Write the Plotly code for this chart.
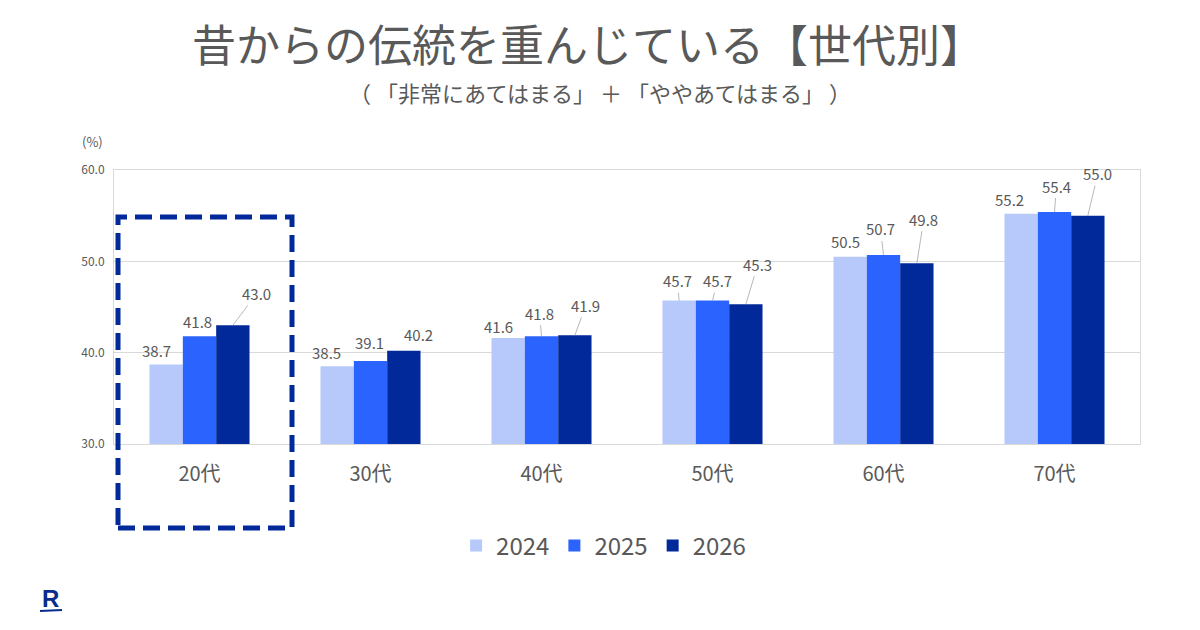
import plotly.graph_objects as go

categories = ["20代", "30代", "40代", "50代", "60代", "70代"]
years = ["2024", "2025", "2026"]
v2024 = [38.7, 38.5, 41.6, 45.7, 50.5, 55.2]
v2025 = [41.8, 39.1, 41.8, 45.7, 50.7, 55.4]
v2026 = [43.0, 40.2, 41.9, 45.3, 49.8, 55.0]
series = [v2024, v2025, v2026]
colors = ["#b7c9fb", "#2b63ff", "#02299a"]

# label offsets (px) from bar top, and whether a leader line is drawn
offsets = [
    [(-10, -14, False), (-2, -15, False), (24, -32, True)],
    [(-11, -14, False), (-1, -18, False), (15, -16, False)],
    [(-10, -12, False), (-2, -23, True), (11, -30, True)],
    [(-2, -20, True), (5, -20, True), (12, -40, True)],
    [(-5, -15, False), (-3, -26, True), (7, -44, True)],
    [(-12, -14, False), (2, -26, True), (10, -42, True)],
]

FONT = "Noto Sans CJK JP"
GREY = "#595959"

fig = go.Figure()
for name, vals, col in zip(years, series, colors):
    fig.add_trace(go.Bar(x=categories, y=vals, name=name, marker=dict(color=col, line=dict(width=0))))

bar_w = 0.195
annotations = []
for i in range(len(categories)):
    for k in range(3):
        val = series[k][i]
        ax, ay, lead = offsets[i][k]
        annotations.append(dict(
            x=i + (k - 1) * bar_w, y=val, xref="x", yref="y",
            text=f"{val:.1f}", showarrow=True, arrowhead=0, arrowwidth=0.8,
            arrowcolor="#a6a6a6" if lead else "rgba(0,0,0,0)",
            ax=ax, ay=ay, standoff=0, startstandoff=0,
            font=dict(family=FONT, size=15, color=GREY),
        ))

annotations += [
    dict(text="昔からの伝統を重んじている【世代別】", xref="paper", yref="paper",
         showarrow=False, font=dict(family=FONT, size=44, color=GREY)),
    dict(text="（ 「非常にあてはまる」 ＋ 「ややあてはまる」 ）", xref="paper", yref="paper",
         showarrow=False, font=dict(family=FONT, size=22, color=GREY)),
    dict(text="(%)", xref="paper", yref="paper", showarrow=False,
         font=dict(family=FONT, size=13, color=GREY)),
    dict(text="<b>R</b>", xref="paper", yref="paper", showarrow=False,
         font=dict(family="Liberation Sans", size=24, color="#0a2c8c")),
]

W, H = 1200, 630
L, R, T, B = 114, 60, 170, 186
pw, ph = W - L - R, H - T - B

def px(x):
    return (x - L) / pw

def py(y):
    return (H - B - y) / ph

# position the page-level texts
annotations[-4].update(x=px(588), y=py(43), xanchor="center", yanchor="middle")
annotations[-3].update(x=px(600), y=py(92), xanchor="center", yanchor="middle")
annotations[-2].update(x=px(92), y=py(142), xanchor="center", yanchor="middle")
annotations[-1].update(x=px(50), y=py(598), xanchor="center", yanchor="middle")

shapes = [
    dict(type="rect", xref="paper", yref="paper", x0=px(118), x1=px(292), y0=py(528), y1=py(217),
         line=dict(color="#02299a", width=5, dash="17px,8px"), fillcolor="rgba(0,0,0,0)"),
    dict(type="line", xref="paper", yref="paper", x0=px(40), x1=px(62), y0=py(611), y1=py(610),
         line=dict(color="#0a2c8c", width=2)),
]

fig.update_layout(
    width=W, height=H,
    margin=dict(l=L, r=R, t=T, b=B, pad=0),
    paper_bgcolor="white", plot_bgcolor="white",
    barmode="group", bargap=0.415, bargroupgap=0,
    font=dict(family=FONT, color=GREY),
    showlegend=True,
    legend=dict(orientation="h", xref="container", yref="container", x=0.503, y=1 - 546 / 630,
                xanchor="center", yanchor="middle", font=dict(family=FONT, size=24, color=GREY),
                itemwidth=30, traceorder="normal"),
    annotations=annotations,
    shapes=shapes,
    xaxis=dict(showgrid=False, showline=True, linecolor="#d9d9d9", mirror=True, ticks="",
               tickfont=dict(family=FONT, size=20, color=GREY), ticklabelstandoff=12),
    yaxis=dict(range=[30, 60], dtick=10, tickformat=".1f", showgrid=True, gridcolor="#d9d9d9",
               showline=True, linecolor="#d9d9d9", mirror=True, ticks="", zeroline=False,
               tickfont=dict(family=FONT, size=12, color=GREY), ticklabelstandoff=6),
)

fig.write_html("out.html")
